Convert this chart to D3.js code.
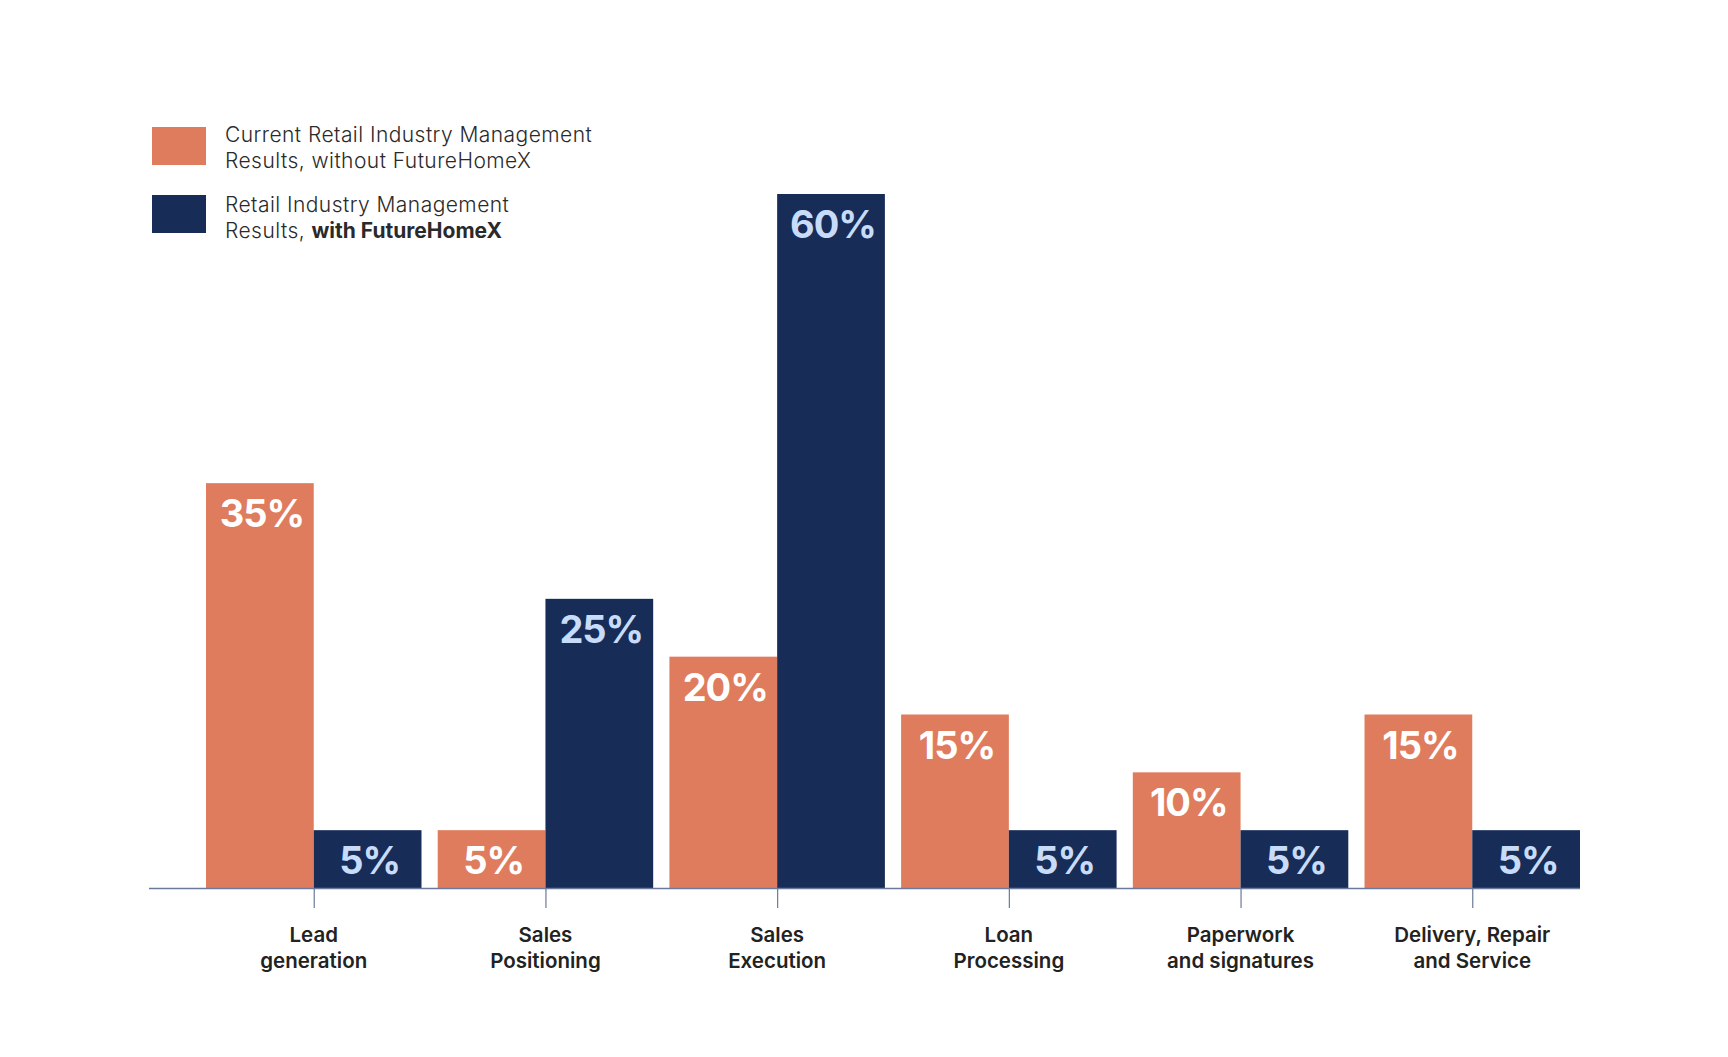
<!DOCTYPE html>
<html>
<head>
<meta charset="utf-8">
<script src="https://cdn.jsdelivr.net/npm/d3@7"></script>
<style>
  body { margin: 0; background: #fff; }
  svg { display: block; }
</style>
</head>
<body>
<svg width="1728" height="1057"></svg>
<script>
// chart data
const categories = ["Lead generation", "Sales Positioning", "Sales Execution", "Loan Processing", "Paperwork and signatures", "Delivery, Repair and Service"];
const categoryLines = [["Lead", "generation"], ["Sales", "Positioning"], ["Sales", "Execution"], ["Loan", "Processing"], ["Paperwork", "and signatures"], ["Delivery, Repair", "and Service"]];
const withoutValues = [35, 5, 20, 15, 10, 15];
const withValues = [5, 25, 60, 5, 5, 5];
const seriesKeys = ["without", "with"];

let svg = d3.select("svg");

let orange = "#e07c5e",
    navy = "#172d57",
    axisColor = "#6a7a9a";

let x0 = d3.scaleBand()
    .domain(categories)
    .range([206, 1580])
    .paddingInner(0.07);

let x1 = d3.scaleBand()
    .domain(seriesKeys)
    .range([0, x0.bandwidth()]);

let y = d3.scaleLinear()
    .domain([0, 60])
    .range([888, 194]);

let color = d3.scaleOrdinal()
    .domain(seriesKeys)
    .range([orange, navy]);

let labelColor = d3.scaleOrdinal()
    .domain(seriesKeys)
    .range(["#ffffff", "#c8dcfa"]);

let rows = categories.map((c, i) => ({
    cat: c,
    vals: [
        { key: "without", value: withoutValues[i] },
        { key: "with", value: withValues[i] }
    ]
}));

let groups = svg.append("g")
    .selectAll("g")
    .data(rows)
    .enter().append("g")
    .attr("transform", d => "translate(" + x0(d.cat) + ",0)");

groups.selectAll("rect")
    .data(d => d.vals)
    .enter().append("rect")
    .attr("x", d => x1(d.key))
    .attr("y", d => y(d.value))
    .attr("width", x1.bandwidth())
    .attr("height", d => y(0) - y(d.value))
    .attr("fill", d => color(d.key));

groups.selectAll("text.val")
    .data(d => d.vals)
    .enter().append("text")
    .attr("class", "val")
    .attr("x", d => x1(d.key) + x1.bandwidth() / 2 + 2)
    .attr("y", d => y(d.value) + 44)
    .attr("text-anchor", "middle")
    .style("font-family", "Inter")
    .style("font-weight", 700)
    .style("font-size", "38px")
    .style("letter-spacing", "-1px")
    .attr("fill", d => labelColor(d.key))
    .text(d => d.value + "%");

// axis with ticks at group centres
let xAxis = d3.axisBottom(d3.scalePoint().domain(categories).range([x0(categories[0]) + x0.bandwidth() / 2, x0(categories[5]) + x0.bandwidth() / 2]))
    .tickSize(20)
    .tickFormat("");

let axis = svg.append("g")
    .attr("transform", "translate(0," + y(0) + ")")
    .call(xAxis);
axis.select(".domain").remove();
axis.selectAll(".tick line").attr("stroke", axisColor).attr("stroke-width", 1.2);

svg.append("line")
    .attr("x1", 149).attr("x2", 1580)
    .attr("y1", y(0) + 0.5).attr("y2", y(0) + 0.5)
    .attr("stroke", axisColor)
    .attr("stroke-width", 1.5);

// category labels
let catText = svg.append("g")
    .selectAll("text")
    .data(categories)
    .enter().append("text")
    .attr("text-anchor", "middle")
    .attr("transform", d => "translate(" + (x0(d) + x0.bandwidth() / 2) + ",942)")
    .style("font-family", "Inter")
    .style("font-weight", 600)
    .style("font-size", "20.5px")
    .attr("fill", "#222222");

catText.selectAll("tspan")
    .data((d, i) => categoryLines[i])
    .enter().append("tspan")
    .attr("x", 0)
    .attr("dy", (d, i) => i === 0 ? 0 : 26)
    .text(d => d);

// legend
let legend = [
    { key: "without", lines: [["Current Retail Industry Management"], ["Results, without FutureHomeX"]] },
    { key: "with", lines: [["Retail Industry Management"], ["Results, ", "with FutureHomeX"]] }
];

let lg = svg.append("g")
    .selectAll("g")
    .data(legend)
    .enter().append("g")
    .attr("transform", (d, i) => "translate(152," + (127 + i * 68) + ")");

lg.append("rect")
    .attr("width", 54)
    .attr("height", 38)
    .attr("fill", d => color(d.key));

let lt = lg.append("text")
    .attr("x", 73)
    .attr("y", 15)
    .style("font-family", "Inter")
    .style("font-weight", 300)
    .style("font-size", "21px")
    .style("letter-spacing", "0.45px")
    .attr("fill", "#2a2a2a");

lt.each(function (d, i) {
    let t = d3.select(this);
    if (i === 1) t.attr("y", 17);
    d.lines.forEach((parts, li) => {
        parts.forEach((p, pi) => {
            let ts = t.append("tspan").text(p);
            if (pi === 0) ts.attr("x", 73).attr("dy", li === 0 ? 0 : 26);
            if (pi === 1) ts.style("font-weight", 700).style("letter-spacing", "0px");
        });
    });
});
</script>
</body>
</html>
